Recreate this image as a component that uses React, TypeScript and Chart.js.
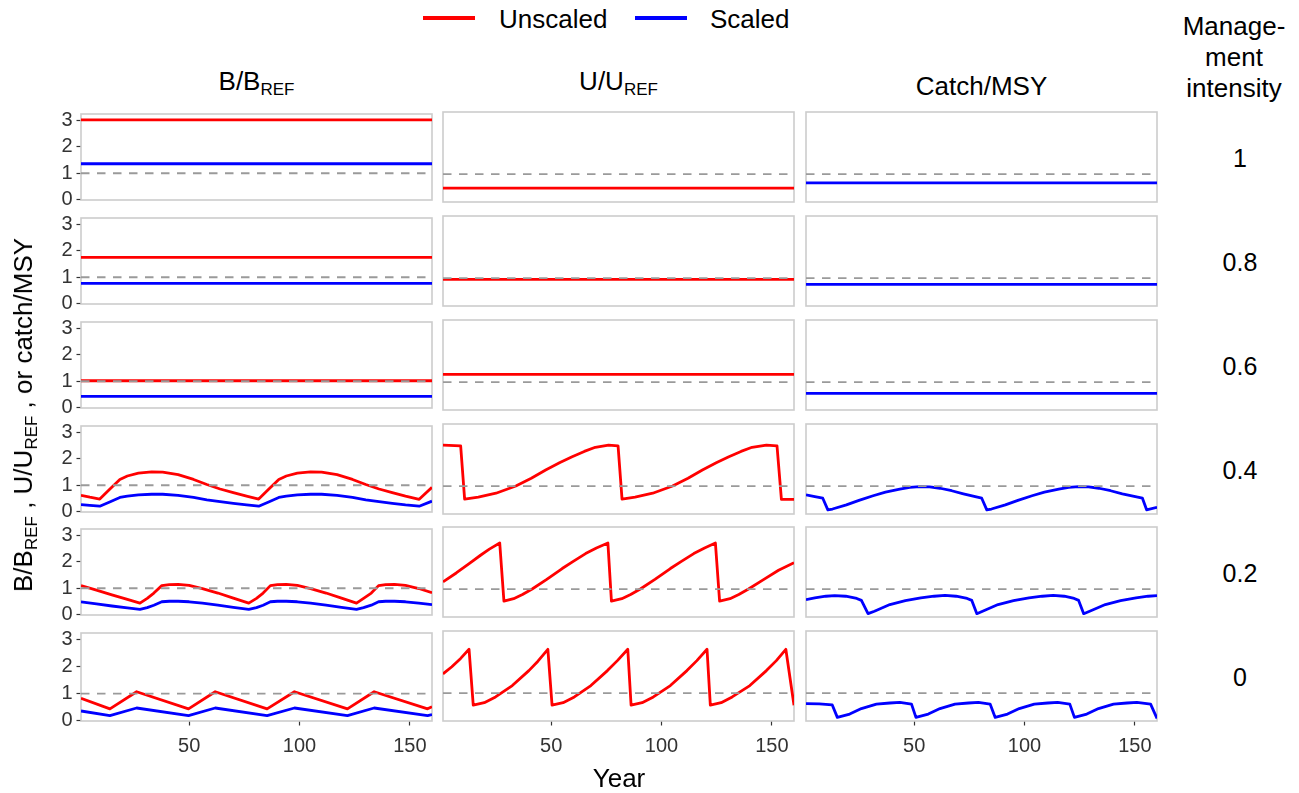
import React, { useEffect, useRef } from "react";
import { Chart, registerables } from "chart.js";

Chart.register(...registerables);

const FONT = "'Liberation Sans', Arial, Helvetica, sans-serif";
const RED = "#FF0000";
const BLUE = "#0000FF";

// ---------------- DATA ----------------
const X_TICKS = [50, 100, 150];
const Y_TICKS = [0, 1, 2, 3];
const INTENSITY = ["1", "0.8", "0.6", "0.4", "0.2", "0"];

const REF_YEARS = [1, 160];
const REF_VALUES = [1, 1];

// Constant rows (intensity 1, 0.8, 0.6)
const FLAT_YEARS = [1, 160];
const B_UN_1 = [3.02, 3.02];
const B_SC_1 = [1.36, 1.36];
const U_1 = [0.49, 0.49];
const C_1 = [0.68, 0.68];

const B_UN_08 = [1.75, 1.75];
const B_SC_08 = [0.77, 0.77];
const U_08 = [0.95, 0.95];
const C_08 = [0.77, 0.77];

const B_UN_06 = [1.02, 1.02];
const B_SC_06 = [0.43, 0.43];
const U_06 = [1.28, 1.28];
const C_06 = [0.59, 0.59];

// Intensity 0.4
const B_YEARS_04 = [1, 5, 9.5, 14, 18.6, 22, 27, 33, 38, 45, 52, 58, 64, 70, 76, 81.5, 86, 90.6, 94, 99, 105, 110, 117, 124, 130, 136, 142, 148, 154.2, 160];
const B_UN_04 = [0.62, 0.55, 0.48, 0.85, 1.22, 1.35, 1.46, 1.51, 1.5, 1.4, 1.22, 1.03, 0.86, 0.72, 0.59, 0.48, 0.85, 1.22, 1.35, 1.46, 1.51, 1.5, 1.4, 1.22, 1.03, 0.86, 0.72, 0.59, 0.47, 0.92];
const B_SC_04 = [0.27, 0.24, 0.21, 0.37, 0.54, 0.59, 0.64, 0.66, 0.66, 0.62, 0.54, 0.45, 0.38, 0.32, 0.26, 0.21, 0.37, 0.54, 0.59, 0.64, 0.66, 0.66, 0.62, 0.54, 0.45, 0.38, 0.32, 0.26, 0.21, 0.4];
const U_YEARS_04 = [1, 9, 10.8, 17, 25, 34, 41, 47.5, 54, 59.5, 65, 70, 76, 80.3, 82.1, 88, 96, 105, 112, 118.5, 125, 130.5, 136, 141, 147.5, 152.3, 154.3, 160];
const U_04 = [2.48, 2.45, 0.53, 0.6, 0.74, 1.0, 1.28, 1.58, 1.85, 2.06, 2.25, 2.4, 2.48, 2.45, 0.53, 0.6, 0.74, 1.0, 1.28, 1.58, 1.85, 2.06, 2.25, 2.4, 2.48, 2.45, 0.52, 0.52];
const C_YEARS_04 = [1, 5, 8.6, 10.9, 13, 19.3, 25, 31.4, 37, 43.5, 48, 52.6, 57, 61.7, 67, 72.3, 80.6, 82.9, 85, 91.3, 97, 103.4, 109, 115.5, 120, 124.6, 129, 133.7, 139, 144.3, 153.4, 155.3, 160];
const C_04 = [0.68, 0.62, 0.56, 0.14, 0.17, 0.32, 0.48, 0.65, 0.78, 0.89, 0.95, 0.98, 0.97, 0.92, 0.83, 0.72, 0.56, 0.14, 0.17, 0.32, 0.48, 0.65, 0.78, 0.89, 0.95, 0.98, 0.97, 0.92, 0.83, 0.72, 0.56, 0.14, 0.23];

// Intensity 0.2
const B_YEARS_02 = [1, 8, 15, 22, 27.7, 31, 34, 37.6, 41, 45, 50, 56, 63, 70, 77, 80.5, 83.5, 86.8, 90, 94, 99, 105, 112, 119, 125.8, 129, 132.5, 135.8, 139, 143, 148, 154, 160];
const B_UN_02 = [1.1, 0.93, 0.75, 0.58, 0.44, 0.62, 0.82, 1.1, 1.14, 1.15, 1.11, 0.99, 0.82, 0.63, 0.44, 0.62, 0.82, 1.1, 1.14, 1.15, 1.11, 0.99, 0.82, 0.63, 0.44, 0.62, 0.82, 1.1, 1.14, 1.15, 1.11, 0.99, 0.83];
const B_SC_02 = [0.49, 0.41, 0.33, 0.26, 0.2, 0.27, 0.36, 0.49, 0.51, 0.51, 0.49, 0.44, 0.36, 0.28, 0.2, 0.27, 0.36, 0.49, 0.51, 0.51, 0.49, 0.44, 0.36, 0.28, 0.2, 0.27, 0.36, 0.49, 0.51, 0.51, 0.49, 0.44, 0.38];
const U_YEARS_02 = [1, 7, 13, 18, 22, 26.7, 28.6, 33, 37, 41.4, 48, 55, 60, 65.6, 70.5, 75.7, 77.3, 82, 86, 90.4, 97, 104, 109, 114.6, 119.5, 124.4, 126.3, 131, 135, 139.4, 146, 153, 160];
const U_02 = [1.26, 1.58, 1.93, 2.22, 2.44, 2.66, 0.56, 0.65, 0.8, 1.0, 1.35, 1.74, 2.0, 2.28, 2.48, 2.66, 0.56, 0.65, 0.8, 1.0, 1.35, 1.74, 2.0, 2.28, 2.48, 2.66, 0.56, 0.65, 0.8, 1.0, 1.33, 1.68, 1.95];
const C_YEARS_02 = [1, 5, 10, 14, 19, 24, 26.1, 29.1, 32, 39, 46, 53, 59, 64, 69, 74, 76.1, 78.4, 81, 88, 95, 102, 108, 113, 118, 122.5, 124.5, 126.8, 129.5, 136.6, 143.5, 150.5, 156, 160];
const C_02 = [0.62, 0.68, 0.74, 0.76, 0.74, 0.66, 0.59, 0.11, 0.2, 0.44, 0.58, 0.68, 0.74, 0.77, 0.74, 0.66, 0.59, 0.11, 0.2, 0.44, 0.58, 0.68, 0.74, 0.77, 0.74, 0.66, 0.59, 0.11, 0.2, 0.44, 0.58, 0.68, 0.74, 0.76];

// Intensity 0
const B_YEARS_0 = [1, 14.1, 26.2, 49.7, 61.8, 85.3, 97.7, 121.7, 133.8, 158, 160];
const B_UN_0 = [0.83, 0.44, 1.07, 0.44, 1.07, 0.44, 1.07, 0.44, 1.07, 0.44, 0.52];
const B_SC_0 = [0.36, 0.19, 0.47, 0.19, 0.47, 0.19, 0.47, 0.19, 0.47, 0.19, 0.23];
const U_YEARS_0 = [1, 5, 9, 12.8, 14.7, 19.7, 24.8, 32.4, 39.9, 44, 48.5, 50.4, 55.4, 60.5, 68, 75.5, 80, 84.7, 86.2, 91.2, 96.3, 104, 111.5, 116, 120.6, 122.1, 127, 132, 140, 147.5, 152, 156.3, 160];
const U_0 = [1.69, 1.95, 2.25, 2.58, 0.56, 0.65, 0.86, 1.27, 1.81, 2.15, 2.58, 0.56, 0.65, 0.86, 1.27, 1.81, 2.17, 2.58, 0.56, 0.65, 0.86, 1.27, 1.81, 2.17, 2.58, 0.56, 0.65, 0.86, 1.27, 1.81, 2.17, 2.58, 0.56];
const C_YEARS_0 = [1, 7, 12.9, 15.2, 20.8, 26.1, 32.9, 39, 43.5, 48.8, 50.8, 56.4, 61.7, 68.5, 74.6, 79.1, 84.4, 86.7, 92.3, 97.6, 104.4, 110.5, 115, 120.5, 122.6, 128.2, 133.5, 140.3, 146.4, 150.9, 157.1, 160];
const C_0 = [0.62, 0.61, 0.57, 0.12, 0.24, 0.44, 0.6, 0.64, 0.66, 0.6, 0.12, 0.24, 0.44, 0.6, 0.64, 0.66, 0.6, 0.12, 0.24, 0.44, 0.6, 0.64, 0.66, 0.6, 0.12, 0.24, 0.44, 0.6, 0.64, 0.66, 0.6, 0.08];

type Series = { years: number[]; values: number[]; color: string };

const PANELS: Series[][][] = [
  [
    [{ years: FLAT_YEARS, values: B_UN_1, color: RED }, { years: FLAT_YEARS, values: B_SC_1, color: BLUE }],
    [{ years: FLAT_YEARS, values: U_1, color: RED }],
    [{ years: FLAT_YEARS, values: C_1, color: BLUE }],
  ],
  [
    [{ years: FLAT_YEARS, values: B_UN_08, color: RED }, { years: FLAT_YEARS, values: B_SC_08, color: BLUE }],
    [{ years: FLAT_YEARS, values: U_08, color: RED }],
    [{ years: FLAT_YEARS, values: C_08, color: BLUE }],
  ],
  [
    [{ years: FLAT_YEARS, values: B_UN_06, color: RED }, { years: FLAT_YEARS, values: B_SC_06, color: BLUE }],
    [{ years: FLAT_YEARS, values: U_06, color: RED }],
    [{ years: FLAT_YEARS, values: C_06, color: BLUE }],
  ],
  [
    [{ years: B_YEARS_04, values: B_UN_04, color: RED }, { years: B_YEARS_04, values: B_SC_04, color: BLUE }],
    [{ years: U_YEARS_04, values: U_04, color: RED }],
    [{ years: C_YEARS_04, values: C_04, color: BLUE }],
  ],
  [
    [{ years: B_YEARS_02, values: B_UN_02, color: RED }, { years: B_YEARS_02, values: B_SC_02, color: BLUE }],
    [{ years: U_YEARS_02, values: U_02, color: RED }],
    [{ years: C_YEARS_02, values: C_02, color: BLUE }],
  ],
  [
    [{ years: B_YEARS_0, values: B_UN_0, color: RED }, { years: B_YEARS_0, values: B_SC_0, color: BLUE }],
    [{ years: U_YEARS_0, values: U_0, color: RED }],
    [{ years: C_YEARS_0, values: C_0, color: BLUE }],
  ],
];

// ---------------- LAYOUT ----------------
const PANEL_LEFT = [81, 443, 806];
const PANEL_W = 351;
const PANEL_TOP = [112, 216, 320, 424, 527, 631];
const PANEL_H = 90;

const borderPlugin = {
  id: "panelBorder",
  beforeDatasetsDraw(chart: any) {
    const { ctx, chartArea: a } = chart;
    ctx.save();
    ctx.strokeStyle = "#CCCCCC";
    ctx.lineWidth = 1.6;
    ctx.strokeRect(a.left, a.top, a.right - a.left, a.bottom - a.top);
    ctx.restore();
  },
};

function Panel({ row, col }: { row: number; col: number }) {
  const ref = useRef<HTMLCanvasElement>(null);
  const showY = col === 0;
  const showX = row === 5;
  const L = showY ? 60 : 8;
  const R = 20;
  const T = 14;
  const B = showX ? 42 : 14;
  const W = L + PANEL_W + R;
  const H = T + PANEL_H + B;

  useEffect(() => {
    const series = PANELS[row][col];
    const datasets: any[] = [
      {
        data: REF_YEARS.map((x, i) => ({ x, y: REF_VALUES[i] })),
        borderColor: "#9A9A9A",
        borderWidth: 1.8,
        borderDash: [8.5, 7.5],
        pointRadius: 0,
        tension: 0,
        fill: false,
      },
      ...series.map((s) => ({
        data: s.years.map((x, i) => ({ x, y: s.values[i] })),
        borderColor: s.color,
        borderWidth: 2.8,
        pointRadius: 0,
        tension: 0,
        fill: false,
        borderJoinStyle: "round",
      })),
    ];
    const tickFont = { family: FONT, size: 20 };
    const chart = new Chart(ref.current as HTMLCanvasElement, {
      type: "line",
      data: { datasets },
      options: {
        animation: false,
        responsive: false,
        maintainAspectRatio: false,
        events: [],
        layout: {
          autoPadding: false,
          padding: { left: showY ? 0 : L, right: R, top: T, bottom: showX ? 0 : B },
        },
        plugins: { legend: { display: false }, tooltip: { enabled: false } },
        scales: {
          x: {
            type: "linear",
            min: 1,
            max: 160,
            display: showX,
            afterBuildTicks: (s: any) => {
              s.ticks = X_TICKS.map((v) => ({ value: v }));
            },
            afterFit: (s: any) => {
              if (showX) s.height = B;
            },
            border: { display: false },
            grid: {
              display: true,
              drawOnChartArea: false,
              drawTicks: true,
              tickLength: 4.5,
              tickColor: "#333333",
              tickWidth: 1.2,
            },
            ticks: { font: tickFont, color: "#333333", padding: 9, autoSkip: false, maxRotation: 0 },
          },
          y: {
            type: "linear",
            min: -0.01,
            max: 3.24,
            display: showY,
            afterBuildTicks: (s: any) => {
              s.ticks = Y_TICKS.map((v) => ({ value: v }));
            },
            afterFit: (s: any) => {
              if (showY) s.width = L;
            },
            border: { display: false },
            grid: {
              display: true,
              drawOnChartArea: false,
              drawTicks: true,
              tickLength: 4.5,
              tickColor: "#333333",
              tickWidth: 1.2,
            },
            ticks: { font: tickFont, color: "#333333", padding: 4, autoSkip: false },
          },
        },
      } as any,
      plugins: [borderPlugin],
    });
    return () => chart.destroy();
  }, [row, col]);

  return (
    <canvas
      ref={ref}
      width={W}
      height={H}
      style={{
        position: "absolute",
        left: PANEL_LEFT[col] - L,
        top: PANEL_TOP[row] - T,
        width: W,
        height: H,
      }}
    />
  );
}

function Txt({
  x,
  baseline,
  size,
  align = "center",
  children,
}: {
  x: number;
  baseline: number;
  size: number;
  align?: "center" | "left";
  children: React.ReactNode;
}) {
  return (
    <div
      style={{
        position: "absolute",
        left: x,
        top: baseline - 0.8465 * size,
        transform: align === "center" ? "translateX(-50%)" : undefined,
        fontSize: size,
        lineHeight: `${size}px`,
        whiteSpace: "nowrap",
        fontFamily: FONT,
        color: "#000",
      }}
    >
      {children}
    </div>
  );
}

const Sub = ({ children }: { children: React.ReactNode }) => (
  <span style={{ fontSize: 17, position: "relative", top: 5, lineHeight: 0 }}>{children}</span>
);

export default function App() {
  const panels = [];
  for (let r = 0; r < 6; r++) for (let c = 0; c < 3; c++) panels.push(<Panel key={`${r}-${c}`} row={r} col={c} />);
  return (
    <div
      style={{
        position: "absolute",
        left: 0,
        top: 0,
        width: 1299,
        height: 793,
        background: "#fff",
        overflow: "hidden",
        fontFamily: FONT,
      }}
    >
      {/* Legend */}
      <div style={{ position: "absolute", left: 423, top: 16.3, width: 52, height: 4, background: RED }} />
      <Txt x={499} baseline={28.3} size={26} align="left">Unscaled</Txt>
      <div style={{ position: "absolute", left: 635, top: 16.3, width: 52, height: 4, background: BLUE }} />
      <Txt x={710} baseline={28.3} size={26} align="left">Scaled</Txt>

      {/* Column titles */}
      <Txt x={PANEL_LEFT[0] + PANEL_W / 2} baseline={90} size={26}>
        B/B<Sub>REF</Sub>
      </Txt>
      <Txt x={PANEL_LEFT[1] + PANEL_W / 2} baseline={90} size={26}>
        U/U<Sub>REF</Sub>
      </Txt>
      <Txt x={PANEL_LEFT[2] + PANEL_W / 2} baseline={95} size={26}>
        Catch/MSY
      </Txt>

      {/* Strip header */}
      <Txt x={1234} baseline={35} size={26}>Manage-</Txt>
      <Txt x={1234} baseline={66} size={26}>ment</Txt>
      <Txt x={1234} baseline={97} size={26}>intensity</Txt>

      {INTENSITY.map((lab, r) => (
        <Txt key={lab} x={1240} baseline={PANEL_TOP[r] + PANEL_H / 2 + 10} size={25}>
          {lab}
        </Txt>
      ))}

      {panels}

      {/* Y axis title */}
      <div
        style={{
          position: "absolute",
          left: 22.7,
          top: 415,
          transform: "translate(-50%, -50%) rotate(-90deg)",
          fontSize: 26,
          lineHeight: "26px",
          whiteSpace: "nowrap",
          fontFamily: FONT,
          color: "#000",
        }}
      >
        B/B<Sub>REF</Sub> , U/U<Sub>REF</Sub> , or catch/MSY
      </div>

      {/* X axis title */}
      <Txt x={619} baseline={786.7} size={26}>Year</Txt>
    </div>
  );
}
